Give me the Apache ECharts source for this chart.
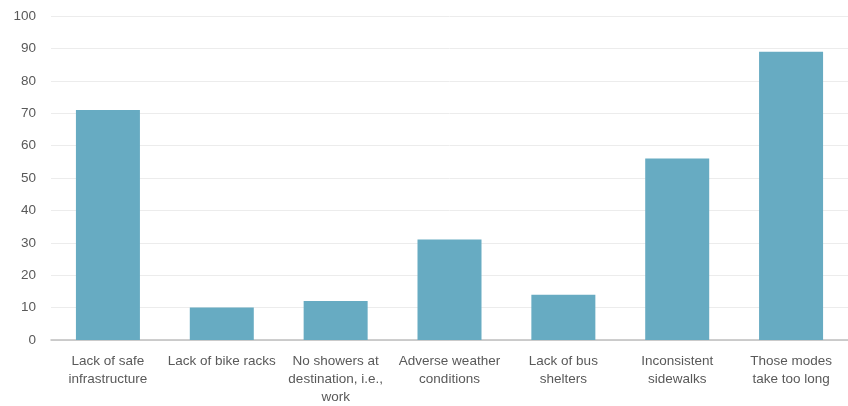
<!DOCTYPE html>
<html>
<head>
<meta charset="utf-8">
<script src="https://cdn.jsdelivr.net/npm/echarts@6/dist/echarts.min.js"></script>
<style>
  html, body { margin: 0; padding: 0; background: #fff; }
  #chart { width: 848px; height: 406px; }
</style>
</head>
<body>
<div id="chart"></div>
<script>
// barriers to walking / biking / transit
var categories = [
    'Lack of safe\ninfrastructure',
    'Lack of bike racks',
    'No showers at\ndestination, i.e.,\nwork',
    'Adverse weather\nconditions',
    'Lack of bus\nshelters',
    'Inconsistent\nsidewalks',
    'Those modes\ntake too long'
];
var values = [71, 10, 12, 31, 14, 56, 89];
var yTicks = { min: 0, max: 100, interval: 10 };

var myChart = echarts.init(document.getElementById('chart'));

var option = {
    animation: false,
    textStyle: { fontFamily: 'Liberation Sans' },
    grid: {
        left: 51,
        right: -7,
        top: 16,
        bottom: 62
    },
    xAxis: {
        type: 'category',
        data: categories,
        axisLine: { lineStyle: { color: '#bfbfbf', width: 1.5 } },
        axisTick: { show: false },
        axisLabel: {
            color: '#595959',
            fontSize: 13.5,
            lineHeight: 18,
            margin: 12,
            interval: 0
        }
    },
    yAxis: {
        type: 'value',
        min: yTicks.min,
        max: yTicks.max,
        interval: yTicks.interval,
        axisLine: { show: false },
        axisTick: { show: false },
        axisLabel: {
            color: '#595959',
            fontSize: 13.5,
            margin: 15
        },
        splitLine: { lineStyle: { color: '#ececec', width: 1 } }
    },
    series: [{
        name: '',
        type: 'bar',
        data: values,
        barWidth: 64,
        itemStyle: { color: '#67abc2' }
    }]
};

myChart.setOption(option);
</script>
</body>
</html>
